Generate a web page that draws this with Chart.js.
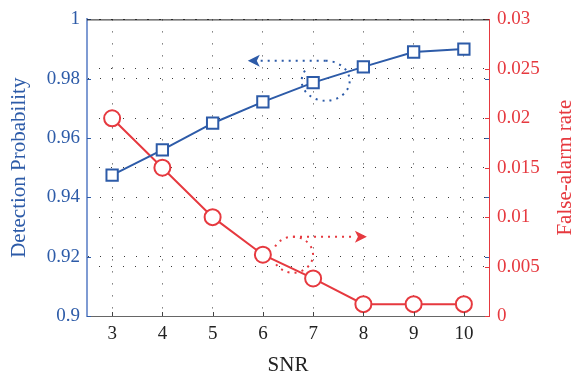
<!DOCTYPE html>
<html>
<head>
<meta charset="utf-8">
<script src="https://cdn.jsdelivr.net/npm/chart.js@4"></script>
<style>
  body { margin: 0; background: #fff; }
  #wrap { width: 571px; height: 377px; }
</style>
</head>
<body>
<div id="wrap"><canvas id="chart" width="571" height="377"></canvas></div>
<script>
// data
const snr = [3, 4, 5, 6, 7, 8, 9, 10];
const detectionProb = [0.9475, 0.956, 0.965, 0.9722, 0.9787, 0.984, 0.989, 0.990];
const falseAlarm = [0.020, 0.015, 0.010, 0.0062, 0.0038, 0.0012, 0.0012, 0.0012];
const xTicks = [3, 4, 5, 6, 7, 8, 9, 10];
const leftTicks = [0.9, 0.92, 0.94, 0.96, 0.98, 1];
const rightTicks = [0, 0.005, 0.01, 0.015, 0.02, 0.025, 0.03];

const BLUE = '#2d5ba8';
const RED = '#e6393f';
const FONT = "'Liberation Serif', 'Times New Roman', serif";

function fmt(v) {
  return String(+v.toFixed(4));
}

// dotted curved arrows, inward ticks, titles, top frame
const decorPlugin = {
  id: 'decor',
  afterDatasetsDraw(chart) {
    const { ctx, chartArea, scales } = chart;
    const x = scales.x, yl = scales.y, yr = scales.y1;

    function arrow(color, cx, cy, rx, ry, a0, a1, tipX, lineY) {
      ctx.save();
      ctx.strokeStyle = color;
      ctx.fillStyle = color;
      ctx.lineWidth = 2;
      ctx.setLineDash([2, 5]);
      ctx.beginPath();
      ctx.ellipse(cx, cy, rx, ry, 0, a0, a1);
      ctx.stroke();
      const dir = tipX < cx ? -1 : 1;
      const baseX = tipX - dir * 12;
      ctx.beginPath();
      ctx.moveTo(cx, lineY);
      ctx.lineTo(baseX, lineY);
      ctx.stroke();
      ctx.setLineDash([]);
      ctx.beginPath();
      ctx.moveTo(tipX, lineY);
      ctx.lineTo(baseX, lineY - 6);
      ctx.lineTo(baseX + dir * 3, lineY);
      ctx.lineTo(baseX, lineY + 6);
      ctx.closePath();
      ctx.fill();
      ctx.restore();
    }

    // blue arrow: loop round the SNR=7 point, pointing left
    const bcx = x.getPixelForValue(7.25), bcy = yl.getPixelForValue(0.9793);
    arrow(BLUE, bcx, bcy, 24, 20, -Math.PI / 2, Math.PI * 1.2, x.getPixelForValue(5.7), bcy - 20);

    // red arrow: loop between SNR 6 and 7, pointing right
    const rcx = x.getPixelForValue(6.6), rcy = yr.getPixelForValue(0.0062);
    arrow(RED, rcx, rcy, 20, 18, -Math.PI * 0.85, Math.PI * 0.85, x.getPixelForValue(8.07), rcy - 18);

    ctx.save();
    // short inward tick marks, as on a boxed plot
    ctx.lineWidth = 1;
    function hTick(color, px, py, len) {
      ctx.strokeStyle = color;
      ctx.beginPath();
      ctx.moveTo(px, Math.round(py) + 0.5);
      ctx.lineTo(px + len, Math.round(py) + 0.5);
      ctx.stroke();
    }
    leftTicks.forEach(v => {
      const py = yl.getPixelForValue(v);
      hTick(BLUE, chartArea.left, py, 4);
      hTick(BLUE, chartArea.right, py, -4);
    });
    rightTicks.forEach(v => hTick(RED, chartArea.right, yr.getPixelForValue(v), -4));
    ctx.strokeStyle = '#444';
    xTicks.forEach(v => {
      const px = Math.round(x.getPixelForValue(v)) + 0.5;
      ctx.beginPath();
      ctx.moveTo(px, chartArea.bottom);
      ctx.lineTo(px, chartArea.bottom - 4);
      ctx.stroke();
    });

    // top frame
    ctx.strokeStyle = '#222';
    ctx.beginPath();
    ctx.moveTo(chartArea.left, chartArea.top + 0.5);
    ctx.lineTo(chartArea.right, chartArea.top + 0.5);
    ctx.stroke();

    // axis titles
    const midY = (chartArea.top + chartArea.bottom) / 2;
    ctx.font = '21px ' + FONT;
    ctx.textAlign = 'center';
    ctx.textBaseline = 'middle';
    ctx.fillStyle = BLUE;
    ctx.save();
    ctx.translate(19, midY);
    ctx.rotate(-Math.PI / 2);
    ctx.fillText('Detection Probability', 0, 0);
    ctx.restore();
    ctx.fillStyle = RED;
    ctx.save();
    ctx.translate(565, midY);
    ctx.rotate(-Math.PI / 2);
    ctx.fillText('False-alarm rate', 0, 0);
    ctx.restore();
    ctx.fillStyle = '#222';
    ctx.fillText('SNR', (chartArea.left + chartArea.right) / 2, 365);
    ctx.restore();
  }
};

const gridDash = [1, 11];

new Chart(document.getElementById('chart'), {
  type: 'line',
  data: {
    datasets: [
      {
        label: 'Detection Probability',
        data: snr.map((v, i) => ({ x: v, y: detectionProb[i] })),
        yAxisID: 'y',
        borderColor: BLUE,
        borderWidth: 2,
        backgroundColor: '#fff',
        pointStyle: 'rect',
        pointRadius: 8,
        pointBorderWidth: 2,
        pointBorderColor: BLUE,
        pointBackgroundColor: '#fff'
      },
      {
        label: 'False-alarm rate',
        data: snr.map((v, i) => ({ x: v, y: falseAlarm[i] })),
        yAxisID: 'y1',
        borderColor: RED,
        borderWidth: 2,
        backgroundColor: '#fff',
        pointStyle: 'circle',
        pointRadius: 8,
        pointBorderWidth: 2,
        pointBorderColor: RED,
        pointBackgroundColor: '#fff'
      }
    ]
  },
  options: {
    responsive: false,
    animation: false,
    layout: { padding: { top: 17, left: 0, right: 0, bottom: 0 } },
    plugins: { legend: { display: false }, tooltip: { enabled: false } },
    scales: {
      x: {
        type: 'linear',
        min: 2.5,
        max: 10.5,
        afterBuildTicks(scale) { scale.ticks = xTicks.map(v => ({ value: v })); },
        afterFit(scale) { scale.height = 61; },
        ticks: { color: '#222', font: { family: FONT, size: 19 }, padding: 7, maxRotation: 0 },
        grid: { color: '#3a3a3a', drawTicks: false },
        border: { color: '#666', dash: gridDash }
      },
      y: {
        position: 'left',
        min: 0.9,
        max: 1,
        afterBuildTicks(scale) { scale.ticks = leftTicks.map(v => ({ value: v })); },
        afterFit(scale) { scale.width = 87; },
        ticks: { color: BLUE, font: { family: FONT, size: 19 }, padding: 7, callback: fmt },
        grid: { color: '#3a3a3a', drawTicks: false },
        border: { color: '#7f9bd3', width: 2, dash: gridDash }
      },
      y1: {
        position: 'right',
        min: 0,
        max: 0.03,
        afterBuildTicks(scale) { scale.ticks = rightTicks.map(v => ({ value: v })); },
        afterFit(scale) { scale.width = 82; },
        ticks: { color: RED, font: { family: FONT, size: 19 }, padding: 8, callback: fmt },
        grid: { color: '#3a3a3a', drawTicks: false },
        border: { color: RED, dash: gridDash }
      }
    }
  },
  plugins: [decorPlugin]
});
</script>
</body>
</html>
